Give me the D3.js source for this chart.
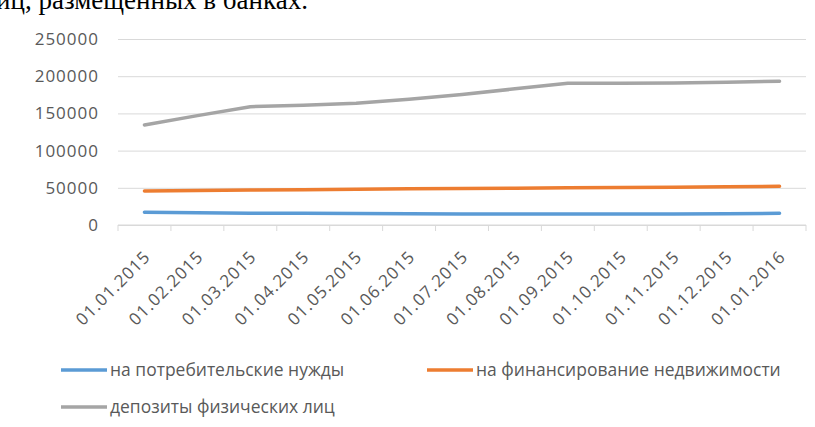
<!DOCTYPE html>
<html>
<head>
<meta charset="utf-8">
<style>
  body { margin: 0; background: #fff; }
  .ylab, .xlab { font-family: "Open Sans", sans-serif; font-size: 17px; fill: #595959; letter-spacing: 1px; }
  .legend text { font-family: "Open Sans", sans-serif; font-size: 19px; fill: #595959; }
  .grid .tick line { stroke: #d9d9d9; }
  .grid path { stroke-width: 0; }
</style>
</head>
<body>
<svg width="815" height="427"></svg>
<script src="https://d3js.org/d3.v7.min.js"></script>
<script>
var dates = ["01.01.2015", "01.02.2015", "01.03.2015", "01.04.2015", "01.05.2015", "01.06.2015", "01.07.2015",
             "01.08.2015", "01.09.2015", "01.10.2015", "01.11.2015", "01.12.2015", "01.01.2016"];
var consumer = [17300, 16500, 15800, 15700, 15600, 15200, 14800, 14800, 14800, 14800, 14800, 15200, 15700];
var realty   = [45700, 46300, 46900, 47500, 48100, 48700, 49000, 49400, 50000, 50400, 50700, 51300, 52000];
var deposits = [134500, 147000, 159000, 161000, 163800, 169000, 175500, 183000, 190500, 190500, 190700, 192000, 193300];
var seriesNames = ["на потребительские нужды", "на финансирование недвижимости", "депозиты физических лиц"];
var yTicks = [0, 50000, 100000, 150000, 200000, 250000];

var svg = d3.select("svg"),
    margin = {top: 39, right: 9, bottom: 202, left: 118},
    width = +svg.attr("width") - margin.left - margin.right,
    height = +svg.attr("height") - margin.top - margin.bottom,
    g = svg.append("g").attr("transform", "translate(" + margin.left + "," + margin.top + ")");

var x = d3.scaleBand().domain(dates).range([0, width]);
var y = d3.scaleLinear().domain([0, 250000]).range([height, 0]);
var z = d3.scaleOrdinal().domain(seriesNames).range(["#5b9bd5", "#ed7d31", "#a5a5a5"]);

// piece of the document text above the chart (cut by the page top)
svg.append("text")
    .attr("x", -4)
    .attr("y", 9)
    .style("font-family", "'Liberation Serif', serif")
    .style("font-size", "27px")
    .attr("fill", "#000")
    .text("иц, размещенных в банках.");

// gridlines
g.append("g")
    .attr("class", "grid")
    .call(d3.axisLeft(y).tickValues(yTicks).tickSize(-width).tickFormat(""));

// y labels
g.selectAll(".ylab")
    .data(yTicks)
    .enter().append("text")
    .attr("class", "ylab")
    .attr("x", -19)
    .attr("y", d => y(d) + 6)
    .attr("text-anchor", "end")
    .text(d => d);

// x axis line and category ticks
g.append("line")
    .attr("x1", 0).attr("x2", width)
    .attr("y1", height).attr("y2", height)
    .attr("stroke", "#d9d9d9");
g.selectAll(".xtick")
    .data(dates.concat(["end"]))
    .enter().append("line")
    .attr("class", "xtick")
    .attr("x1", d => d == "end" ? width : x(d))
    .attr("x2", d => d == "end" ? width : x(d))
    .attr("y1", height).attr("y2", height + 6)
    .attr("stroke", "#d9d9d9");

g.selectAll(".xlab")
    .data(dates)
    .enter().append("text")
    .attr("class", "xlab")
    .attr("text-anchor", "end")
    .attr("transform", d => "translate(" + (x(d) + x.bandwidth() / 2 + 7) + "," + (height + 33) + ") rotate(-45)")
    .text(d => d);

// lines
var line = d3.line()
    .x((d, i) => x(dates[i]) + x.bandwidth() / 2)
    .y(d => y(d));

[consumer, realty, deposits].forEach(function(vals, k) {
  g.append("path")
      .datum(vals)
      .attr("fill", "none")
      .attr("stroke", z(seriesNames[k]))
      .attr("stroke-width", 3.5)
      .attr("stroke-linecap", "round")
      .attr("stroke-linejoin", "round")
      .attr("d", line);
});

// legend
var legPos = [[61, 370], [427, 370], [61, 407]];
var legend = svg.append("g")
    .attr("class", "legend")
    .selectAll("g")
    .data(seriesNames)
    .enter().append("g")
    .attr("transform", (d, i) => "translate(" + legPos[i][0] + "," + legPos[i][1] + ")");

legend.append("line")
    .attr("x1", 0).attr("x2", 46)
    .attr("stroke", z)
    .attr("stroke-width", 3.5);

legend.append("text")
    .attr("transform", "translate(49,0) scale(0.92,1)")
    .attr("dy", "0.32em")
    .text(d => d);
</script>
</body>
</html>
